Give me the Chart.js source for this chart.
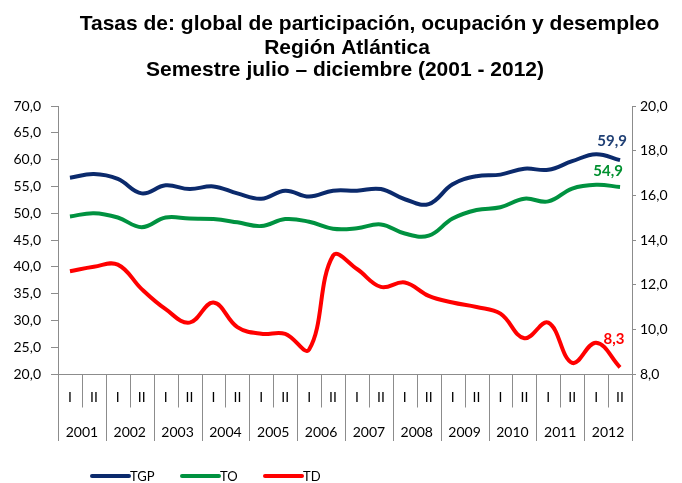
<!DOCTYPE html>
<html>
<head>
<meta charset="utf-8">
<script src="https://cdn.jsdelivr.net/npm/chart.js@4/dist/chart.umd.min.js"></script>
<style>
  html, body { margin: 0; padding: 0; background: #fff; }
  #grafico { display: block; }
</style>
</head>
<body>
<canvas id="grafico" width="682" height="483"></canvas>
<script>
// semestres y años (eje x en dos niveles)
const semestres = ['I','II','I','II','I','II','I','II','I','II','I','II','I','II','I','II','I','II','I','II','I','II','I','II'];
const anios = ['2001','2002','2003','2004','2005','2006','2007','2008','2009','2010','2011','2012'];

// tasas
const tgp = [56.6, 57.3, 56.4, 53.7, 55.2, 54.5, 55.0, 53.7, 52.7, 54.2, 53.1, 54.2, 54.2, 54.5, 52.6, 51.7, 55.4, 56.9, 57.2, 58.3, 58.1, 59.7, 61.0, 59.9];
const to  = [49.4, 50.0, 49.2, 47.4, 49.2, 49.0, 48.9, 48.3, 47.6, 48.9, 48.4, 47.1, 47.2, 47.9, 46.2, 45.8, 49.0, 50.6, 51.1, 52.7, 52.2, 54.6, 55.3, 54.9];
const td  = [12.6, 12.8, 12.9, 11.8, 10.9, 10.3, 11.2, 10.1, 9.8, 9.8, 9.1, 13.3, 12.7, 11.9, 12.1, 11.5, 11.2, 11.0, 10.7, 9.6, 10.3, 8.5, 9.4, 8.3];

const series = ['TGP', 'TO', 'TD'];

// eje izquierdo (TGP, TO) y derecho (TD)
const ejeIzq = { min: 20, max: 70, paso: 5 };
const ejeDer = { min: 8, max: 20, paso: 2 };

const titulo = [
  'Tasas de: global de participación, ocupación y desempleo',
  'Región Atlántica',
  'Semestre julio – diciembre (2001 - 2012)'
];

const colores = ['#0b2a6c', '#009240', '#ff0000'];
const gris = '#8c8c8c';
const fuente = 'Lato, "Open Sans", sans-serif';

const coma = v => v.toFixed(1).replace('.', ',');

// dibuja titulo, separadores del eje x, leyenda y etiquetas finales
const extras = {
  id: 'extras',
  afterDraw(chart) {
    const c = chart.ctx;
    const x = chart.scales.x;
    const x2 = chart.scales.x2;
    c.save();

    // titulo
    c.fillStyle = '#000';
    c.font = 'bold 21px "Liberation Sans", Arial, sans-serif';
    c.textAlign = 'center';
    c.textBaseline = 'alphabetic';
    const centros = [369.5, 347, 345];
    const bases = [30, 54, 76];
    titulo.forEach((t, i) => c.fillText(t, centros[i], bases[i]));

    // separadores de categorias
    const ancho = (x.right - x.left) / semestres.length;
    c.strokeStyle = gris;
    c.lineWidth = 1;
    for (let i = 0; i <= semestres.length; i++) {
      const px = Math.round(x.left + i * ancho) + 0.5;
      c.beginPath();
      c.moveTo(px, x.top);
      c.lineTo(px, i % 2 === 0 ? x2.bottom : x.bottom);
      c.stroke();
    }

    // leyenda
    const leyX = [92, 182, 265];
    const leyY = 476;
    c.font = '13px ' + fuente;
    c.textAlign = 'left';
    c.textBaseline = 'middle';
    series.forEach((s, i) => {
      c.strokeStyle = colores[i];
      c.lineWidth = 4;
      c.lineCap = 'round';
      c.beginPath();
      c.moveTo(leyX[i], leyY);
      c.lineTo(leyX[i] + 37, leyY);
      c.stroke();
      c.fillStyle = '#000';
      c.fillText(s, leyX[i] + 38, leyY + 1);
    });

    // etiqueta del ultimo valor de cada serie
    const desp = [[-8, -19], [-12, -16], [-6, -28]];
    const colEtiq = ['#1f3f74', '#00902f', '#ff0000'];
    c.font = 'bold 15px ' + fuente;
    c.textAlign = 'center';
    chart.data.datasets.forEach((ds, i) => {
      const meta = chart.getDatasetMeta(i);
      const p = meta.data[meta.data.length - 1];
      c.fillStyle = colEtiq[i];
      c.fillText(coma(ds.data[ds.data.length - 1]), p.x + desp[i][0], p.y + desp[i][1]);
    });

    c.restore();
  }
};

const linea = (label, data, color, eje) => ({
  label: label,
  data: data,
  borderColor: color,
  backgroundColor: color,
  borderWidth: 4,
  pointRadius: 0,
  tension: 0.4,
  xAxisID: 'x',
  yAxisID: eje
});

new Chart(document.getElementById('grafico'), {
  type: 'line',
  data: {
    labels: semestres,
    datasets: [
      linea(series[0], tgp, colores[0], 'y'),
      linea(series[1], to, colores[1], 'y'),
      linea(series[2], td, colores[2], 'y2')
    ]
  },
  options: {
    responsive: false,
    animation: false,
    layout: { padding: { top: 106, left: 10, right: 0, bottom: 42 } },
    plugins: {
      legend: { display: false },
      title: { display: false },
      tooltip: { enabled: false }
    },
    scales: {
      x: {
        type: 'category',
        position: 'bottom',
        weight: 0,
        offset: true,
        grid: { display: false, drawTicks: false },
        border: { display: true, color: gris },
        ticks: { color: '#000', font: { family: fuente, size: 14 }, padding: 15.5, autoSkip: false, maxRotation: 0 },
        afterFit(s) { s.height = 33.5; }
      },
      x2: {
        type: 'category',
        position: 'bottom',
        weight: 1,
        offset: true,
        labels: anios,
        grid: { display: false, drawTicks: false },
        border: { display: false },
        ticks: { color: '#000', font: { family: fuente, size: 14 }, padding: 16.5, autoSkip: false, maxRotation: 0 },
        afterFit(s) { s.height = 33.5; }
      },
      y: {
        position: 'left',
        min: ejeIzq.min,
        max: ejeIzq.max,
        grid: { drawOnChartArea: false, tickLength: 7, color: gris },
        border: { display: true, color: gris },
        ticks: { stepSize: ejeIzq.paso, color: '#000', font: { family: fuente, size: 14 }, padding: 10, callback: v => coma(v) },
        afterFit(s) { s.width = 48; }
      },
      y2: {
        position: 'right',
        min: ejeDer.min,
        max: ejeDer.max,
        grid: { drawOnChartArea: false, tickLength: 4, color: gris },
        border: { display: true, color: gris },
        ticks: { stepSize: ejeDer.paso, color: '#000', font: { family: fuente, size: 14 }, padding: 4, callback: v => coma(v) },
        afterFit(s) { s.width = 50; }
      }
    }
  },
  plugins: [extras]
});
</script>
</body>
</html>
